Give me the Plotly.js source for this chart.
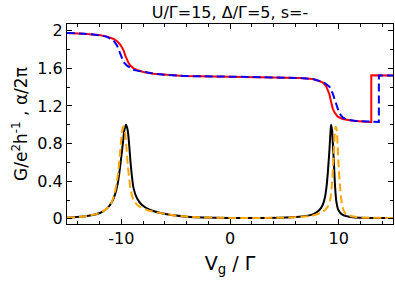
<!DOCTYPE html>
<html>
<head>
<meta charset="utf-8">
<script src="https://cdn.plot.ly/plotly-3.0.1.min.js"></script>
<style>html,body{margin:0;padding:0;background:#fff;}#chart{width:395px;height:284px;}</style>
</head>
<body>
<div id="chart"></div>
<script>
// alpha/2pi, s=+ (red, solid)
var redX = [-15, -13.45, -11.92, -11.31, -10.7, -10.39, -10.09, -9.78, -9.63, -9.48, -9.32, -9.17, -8.87, -8.56, -7.95, -7.03, -5.81, -4.28, 0, 4.56, 6.39, 7.62, 8.23, 8.53, 8.84, 8.99, 9.15, 9.3, 9.45, 9.61, 9.91, 10.37, 11.29, 12.51, 13.0, 13.0, 15];
var redY = [1.977, 1.969, 1.952, 1.938, 1.913, 1.888, 1.852, 1.789, 1.735, 1.689, 1.654, 1.629, 1.601, 1.583, 1.562, 1.544, 1.53, 1.519, 1.512, 1.501, 1.498, 1.487, 1.469, 1.452, 1.413, 1.377, 1.324, 1.246, 1.175, 1.133, 1.086, 1.062, 1.044, 1.033, 1.03, 1.527, 1.525];
// alpha/2pi (blue, dashed)
var blueX = [-15, -13.45, -11.92, -11.31, -10.7, -10.39, -10.24, -10.09, -9.93, -9.78, -9.48, -9.17, -8.87, -8.56, -7.95, -7.03, -5.81, -4.28, 0, 4.56, 6.39, 7.62, 8.23, 8.53, 8.84, 9.15, 9.45, 9.61, 9.76, 9.91, 10.06, 10.37, 10.67, 11.6, 12.5, 13.7, 13.7, 15];
var blueY = [1.977, 1.969, 1.952, 1.935, 1.895, 1.842, 1.796, 1.746, 1.7, 1.665, 1.629, 1.604, 1.586, 1.576, 1.562, 1.544, 1.53, 1.519, 1.512, 1.501, 1.498, 1.487, 1.47, 1.458, 1.434, 1.406, 1.335, 1.282, 1.228, 1.165, 1.122, 1.079, 1.058, 1.04, 1.034, 1.03, 1.525, 1.523];
// conductance G (black, solid)
var blackX = [-15, -13.15, -11.92, -11.31, -10.85, -10.55, -10.33, -10.15, -10.0, -9.84, -9.72, -9.57, -9.42, -9.29, -9.17, -9.02, -8.87, -8.56, -8.1, -7.34, -5.81, -3.97, 0, 4.56, 6.39, 7.62, 8.23, 8.53, 8.75, 8.9, 9.02, 9.15, 9.24, 9.3, 9.39, 9.48, 9.58, 9.67, 9.79, 9.97, 10.37, 11.29, 15];
var blackY = [0.012, 0.03, 0.065, 0.111, 0.182, 0.271, 0.377, 0.519, 0.661, 0.821, 0.945, 1.0, 0.945, 0.803, 0.626, 0.448, 0.324, 0.218, 0.147, 0.094, 0.048, 0.023, 0.01, 0.012, 0.023, 0.048, 0.094, 0.147, 0.235, 0.359, 0.519, 0.732, 0.909, 1.0, 0.945, 0.768, 0.555, 0.342, 0.182, 0.094, 0.041, 0.016, 0.009];
// conductance G (orange, dashed)
var orangeX = [-15, -13.15, -11.92, -11.31, -11.01, -10.7, -10.49, -10.3, -10.15, -10.03, -9.91, -9.84, -9.78, -9.66, -9.54, -9.42, -9.26, -9.11, -8.87, -8.41, -7.64, -5.81, -3.97, 0, 4.56, 7.62, 8.53, 8.99, 9.21, 9.36, 9.48, 9.58, 9.67, 9.73, 9.82, 9.91, 10.0, 10.13, 10.25, 10.43, 10.68, 11.59, 15];
var orangeY = [0.012, 0.03, 0.065, 0.111, 0.147, 0.235, 0.342, 0.484, 0.661, 0.821, 0.945, 0.98, 0.975, 0.927, 0.767, 0.59, 0.413, 0.289, 0.2, 0.136, 0.094, 0.048, 0.023, 0.01, 0.012, 0.035, 0.075, 0.129, 0.2, 0.342, 0.555, 0.768, 0.945, 0.98, 0.945, 0.768, 0.555, 0.342, 0.2, 0.094, 0.048, 0.02, 0.01];

var xTickVals = [-10, 0, 10];
var xTickText = ['-10', '0', '10'];
var yTickVals = [0, 0.4, 0.8, 1.2, 1.6, 2];
var yTickText = ['0', '0.4', '0.8', '1.2', '1.6', '2'];

var FONT = 'DejaVu Sans, Liberation Sans, Arial, sans-serif';

var traces = [
  {x: redX, y: redY, mode: 'lines', line: {color: '#ff0000', width: 2}},
  {x: blueX, y: blueY, mode: 'lines', line: {color: '#0000ff', width: 2, dash: '8px,4px'}},
  {x: blackX, y: blackY, mode: 'lines', line: {color: '#000000', width: 2, shape: 'spline', smoothing: 0.8}},
  {x: orangeX, y: orangeY, mode: 'lines', line: {color: '#ffa500', width: 2, dash: '8px,4px', shape: 'spline', smoothing: 0.8}}
];

var layout = {
  width: 395, height: 284,
  margin: {l: 67, r: 2, t: 24, b: 60, pad: 0},
  paper_bgcolor: '#ffffff', plot_bgcolor: '#ffffff',
  showlegend: false,
  font: {family: FONT, color: '#000000'},
  title: {text: 'U/Γ=15, Δ/Γ=5, s=-', font: {family: FONT, size: 16, color: '#000'},
          x: 0.5, xref: 'paper', xanchor: 'center', y: 0.955, yref: 'container', yanchor: 'middle'},
  xaxis: {
    range: [-15, 15], showgrid: false, zeroline: false,
    showline: true, linecolor: '#000', linewidth: 1, mirror: 'allticks',
    ticks: 'inside', ticklen: 5, tickwidth: 1, tickcolor: '#000',
    tickmode: 'array', tickvals: xTickVals, ticktext: xTickText,
    tickfont: {family: FONT, size: 16, color: '#000'},
    minor: {tickmode: 'linear', tick0: 0, dtick: 2, ticks: 'inside', ticklen: 3, tickcolor: '#000', showgrid: false},
    title: {text: 'V<sub>g</sub> / Γ', font: {family: FONT, size: 19, color: '#000'}, standoff: 9}
  },
  yaxis: {
    range: [-0.055, 2.072], showgrid: false, zeroline: false,
    showline: true, linecolor: '#000', linewidth: 1, mirror: 'allticks',
    ticks: 'inside', ticklen: 5, tickwidth: 1, tickcolor: '#000',
    tickmode: 'array', tickvals: yTickVals, ticktext: yTickText,
    tickfont: {family: FONT, size: 16, color: '#000'},
    minor: {tickmode: 'linear', tick0: 0, dtick: 0.2, ticks: 'inside', ticklen: 3, tickcolor: '#000', showgrid: false},
    title: {text: 'G/e<sup>2</sup>h<sup>-1</sup> , α/2π', font: {family: FONT, size: 17, color: '#000'}, standoff: 5}
  }
};

Plotly.newPlot('chart', traces, layout, {displayModeBar: false, staticPlot: true});
</script>
</body>
</html>
